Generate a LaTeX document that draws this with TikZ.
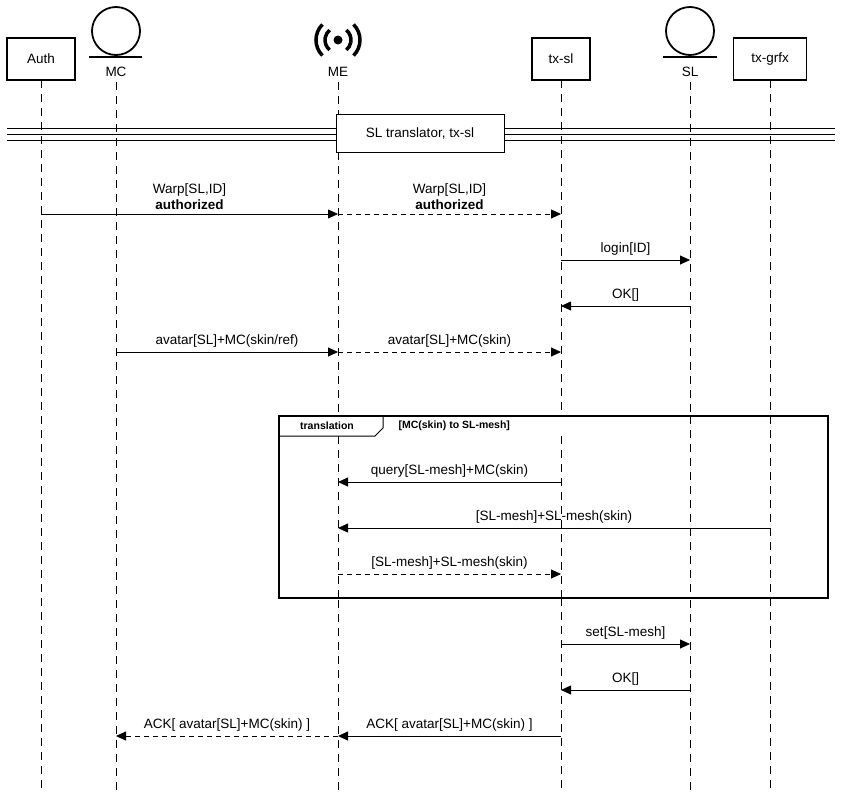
\documentclass[tikz,border=0pt]{standalone}
\usepackage{fontspec}
\setmainfont{Liberation Sans}
\usetikzlibrary{arrows.meta}
\begin{document}
\begin{tikzpicture}[x=1pt,y=-1pt,
  every node/.style={font=\fontsize{13.5}{16}\selectfont},
  actor/.style={draw,line width=1.2pt,minimum width=#1,minimum height=42,inner sep=0},
  life/.style={dash pattern=on 8pt off 6pt,line width=0.7pt},
  msg/.style={-{Triangle[length=10pt,width=9pt]},line width=0.8pt},
  rmsg/.style={msg,dash pattern=on 5pt off 4pt},
  lbl/.style={above=1pt,midway}]
\useasboundingbox (0,0) rectangle (843,793);
% actors
\node[actor=68] (auth) at (41,59) {Auth};
\node[actor=58] (txsl) at (561,59) {tx-sl};
\node[actor=73] (txg) at (770,59) {tx-grfx};
\draw[line width=1.8pt] (116,31) circle (24);
\draw[line width=1.8pt] (89,57) -- (142,57);
\node (mc) at (116,72) {MC};
\draw[line width=1.8pt] (690,31) circle (24);
\draw[line width=1.8pt] (663,57) -- (717,57);
\node (sl) at (690,72) {SL};
\fill (338,40) circle (4.5);
\foreach \r/\a in {13/50,22/45}{
  \draw[line width=3.5pt] (338,40) ++(-\a:\r) arc[start angle=-\a,end angle=\a,radius=\r];
  \draw[line width=3.5pt] (338,40) ++(180-\a:\r) arc[start angle=180-\a,end angle=180+\a,radius=\r];}
\node (me) at (338,72) {ME};
% lifelines
\foreach \x/\y in {41/80,116/82,338/82,561/80,690/82,770/80}
  \draw[life] (\x,\y) -- (\x,793);
% divider
\foreach \y in {128,134,140} \draw[line width=0.8pt] (7,\y) -- (835,\y);
\node[draw,fill=white,minimum width=168,minimum height=38,inner sep=0] (div) at (420,133) {SL translator, tx-sl};
% coordinates
\foreach \n/\x in {A/41,M/116,E/338,T/561,S/690,G/770}
  \foreach \y in {214,260,306,352,482,528,574,644,690,736}
    \coordinate (\n\y) at (\x,\y);
\draw[msg] (A214) -- (E214) node[above=1pt,midway,align=center] {Warp[SL,ID]\\\textbf{authorized}};
\draw[rmsg] (E214) -- (T214) node[above=1pt,midway,align=center] {Warp[SL,ID]\\\textbf{authorized}};
\draw[msg] (T260) -- (S260) node[lbl] {login[ID]};
\draw[msg] (S306) -- (T306) node[lbl] {OK[]};
\draw[msg] (M352) -- (E352) node[lbl] {avatar[SL]+MC(skin/ref)};
\draw[rmsg] (E352) -- (T352) node[lbl] {avatar[SL]+MC(skin)};
% frame
\draw[line width=1.5pt,fill=white] (279,416) rectangle (828,598);
\draw[line width=1pt] (279,436) -- (375,436) -- (383,428) -- (383,416);
\node[font=\bfseries\fontsize{10.5}{12}\selectfont] (ft) at (327,426) {translation};
\node[font=\bfseries\fontsize{10.5}{12}\selectfont,anchor=west] (fg) at (395,426) {[MC(skin) to SL-mesh]};
\draw[life] (338,436) -- (338,598);
\draw[life] (561,436) -- (561,598);
\draw[life] (690,416) -- (690,598);
\draw[life] (770,416) -- (770,598);
\draw[msg] (T482) -- (E482) node[lbl] {query[SL-mesh]+MC(skin)};
\draw[msg] (G528) -- (E528) node[lbl] {[SL-mesh]+SL-mesh(skin)};
\draw[rmsg] (E574) -- (T574) node[lbl] {[SL-mesh]+SL-mesh(skin)};
\draw[msg] (T644) -- (S644) node[lbl] {set[SL-mesh]};
\draw[msg] (S690) -- (T690) node[lbl] {OK[]};
\draw[msg] (T736) -- (E736) node[lbl] {ACK[ avatar[SL]+MC(skin) ]};
\draw[rmsg] (E736) -- (M736) node[lbl] {ACK[ avatar[SL]+MC(skin) ]};
\end{tikzpicture}
\end{document}
